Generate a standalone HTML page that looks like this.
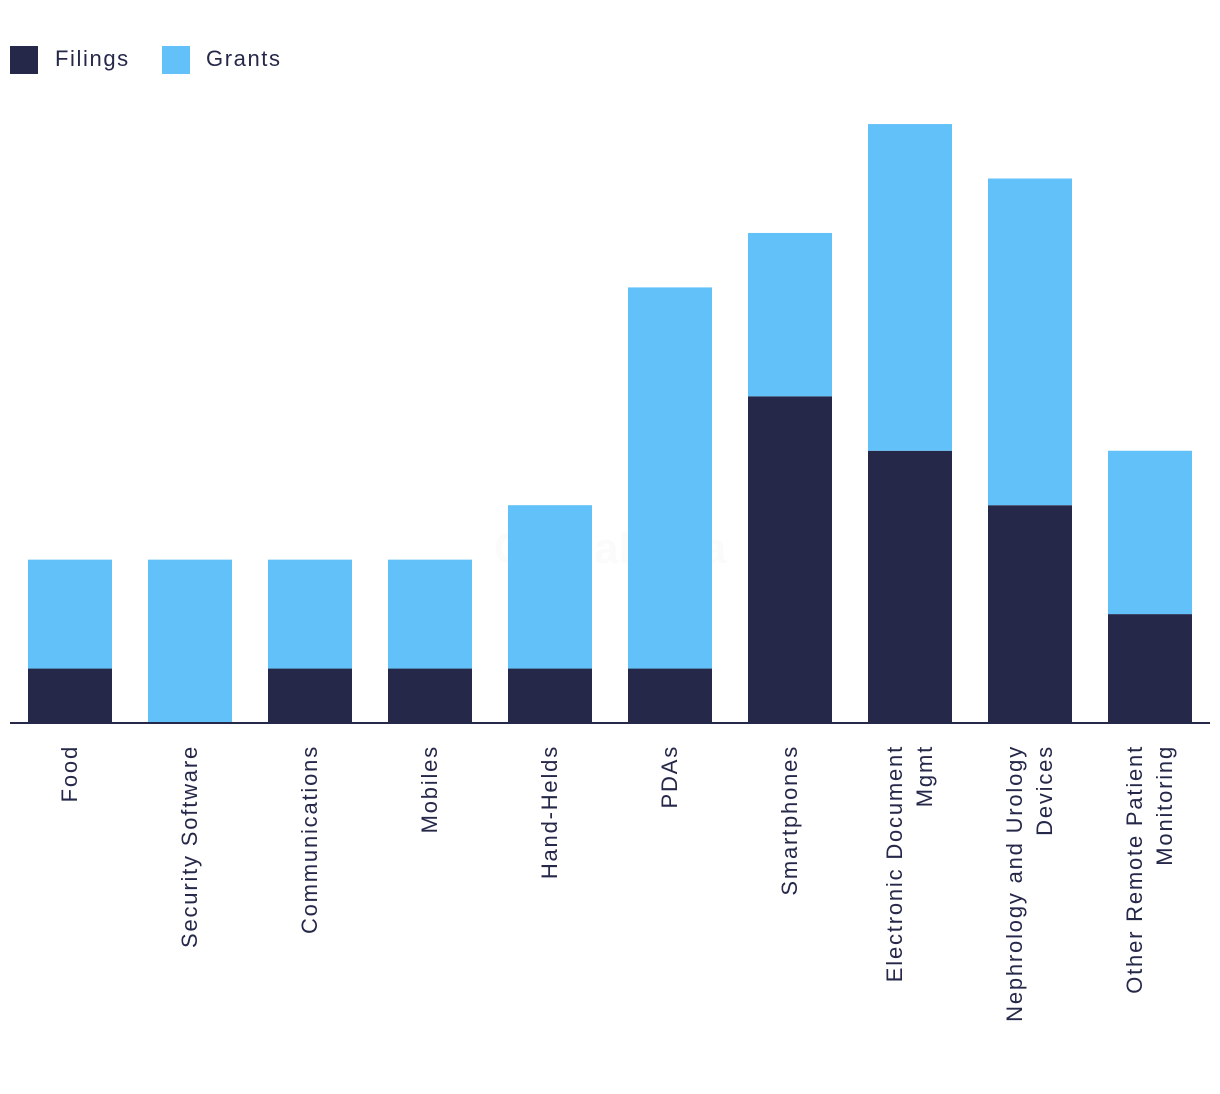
<!DOCTYPE html>
<html><head><meta charset="utf-8"><style>
body{margin:0;background:#fff;}
svg{display:block;font-family:"Liberation Sans",sans-serif;}
</style></head><body>
<svg id="chart" width="1220" height="1094" viewBox="0 0 1220 1094">
<g>
<rect x="10" y="46" width="28" height="28" fill="#26284a"/>
<text x="55" y="66" font-size="22" letter-spacing="1.6" fill="#26284a">Filings</text>
<rect x="162" y="46" width="28" height="28" fill="#62c1f9"/>
<text x="206" y="66" font-size="22" letter-spacing="1.6" fill="#26284a">Grants</text>
</g>
<text x="610" y="563" font-size="44" font-weight="bold" fill="#f7f7f9" fill-opacity="0.5" text-anchor="middle">GlobalData</text>
<g id="bars"></g>
<line x1="10" y1="723" x2="1210" y2="723" stroke="#26284a" stroke-width="2"/>
<g id="labels"></g>
</svg>
<script>
const categories=[["Food"],["Security Software"],["Communications"],["Mobiles"],["Hand-Helds"],["PDAs"],["Smartphones"],["Electronic Document","Mgmt"],["Nephrology and Urology","Devices"],["Other Remote Patient","Monitoring"]];
const filings=[1,0,1,1,1,1,6,5,4,2];
const grants=[2,3,2,2,3,7,3,6,6,3];
const NS="http://www.w3.org/2000/svg";
const base=723,unit=54.45,x0=28,step=120,bw=84;
const y=v=>base-v*unit;
const bars=document.getElementById('bars'),labels=document.getElementById('labels');
categories.forEach((c,i)=>{
  const x=x0+i*step;
  const f=document.createElementNS(NS,'rect');
  
  
  f.setAttribute('x',x);f.setAttribute('width',bw);
  f.setAttribute('y',y(filings[i]));f.setAttribute('height',base-y(filings[i]));
  f.setAttribute('fill','#26284a');bars.appendChild(f);
  const g=document.createElementNS(NS,'rect');
  
  
  g.setAttribute('x',x);g.setAttribute('width',bw);
  g.setAttribute('y',y(filings[i]+grants[i]));g.setAttribute('height',y(filings[i])-y(filings[i]+grants[i]));
  g.setAttribute('fill','#62c1f9');bars.appendChild(g);
  const cx=x+bw/2;
  const n=c.length;
  c.forEach((line,j)=>{
    const t=document.createElementNS(NS,'text');
    
    
    const lx=cx+(j-(n-1)/2)*30+7;
    t.setAttribute('transform','translate('+lx+',745) rotate(-90)');
    t.setAttribute('text-anchor','end');
    t.setAttribute('font-size','22');
    t.setAttribute('letter-spacing','1.8');
    t.setAttribute('fill','#26284a');
    t.textContent=line;labels.appendChild(t);
  });
});
</script>
</body></html>
